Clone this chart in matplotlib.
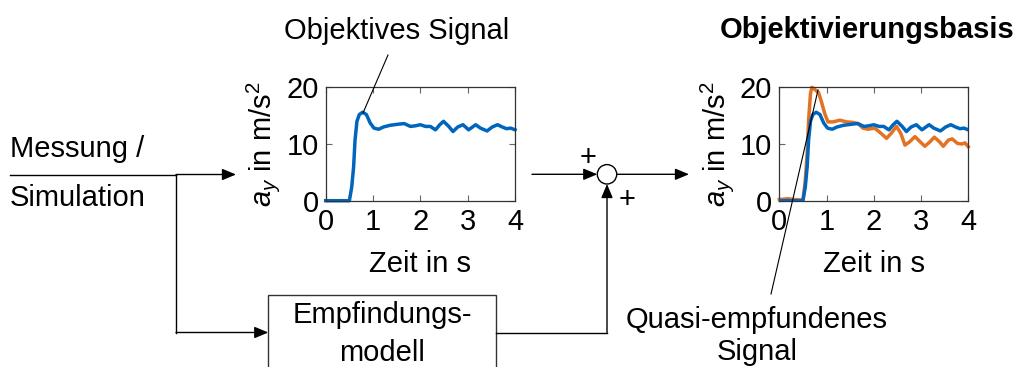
import matplotlib
matplotlib.use("Agg")
import matplotlib.pyplot as plt
from matplotlib.patches import Circle, Rectangle

plt.rcParams['font.family'] = ['Liberation Sans', 'DejaVu Sans']
plt.rcParams['mathtext.fontset'] = 'custom'
plt.rcParams['mathtext.rm'] = 'Liberation Sans'
plt.rcParams['mathtext.it'] = 'Liberation Sans:italic'

# ---- data ----
t_obj = [0.0, 0.50, 0.55, 0.59, 0.62, 0.66, 0.71, 0.78, 0.86, 0.94, 1.02, 1.12, 1.22, 1.36,
         1.54, 1.66, 1.79, 1.89, 2.00, 2.11, 2.21, 2.32, 2.41, 2.49, 2.60, 2.69, 2.79,
         2.90, 3.02, 3.17, 3.27, 3.41, 3.52, 3.63, 3.73, 3.82, 3.91, 4.0]
a_obj = [0.0, 0.0, 2.4, 6.0, 10.7, 14.0, 15.2, 15.6, 15.2, 13.7, 12.8, 12.6, 13.0, 13.3,
         13.5, 13.6, 13.1, 13.2, 13.4, 13.1, 13.1, 12.5, 13.4, 14.0, 13.1, 12.2, 13.0,
         13.4, 12.5, 13.4, 12.8, 12.3, 13.0, 13.4, 13.0, 12.7, 12.8, 12.5]

t_quasi = [0.0, 0.18, 0.33, 0.50, 0.55, 0.59, 0.62, 0.66, 0.69, 0.73, 0.78, 0.83, 0.89,
           0.96, 1.03, 1.14, 1.28, 1.42, 1.56, 1.67, 1.77, 1.88, 2.02, 2.15, 2.27, 2.37,
           2.48, 2.57, 2.66, 2.76, 2.87, 2.98, 3.08, 3.19, 3.28, 3.39, 3.47, 3.58, 3.66,
           3.77, 3.86, 3.93, 4.0]
a_quasi = [0.2, 0.35, 0.2, 0.1, 3.6, 8.4, 14.2, 18.9, 20.0, 19.8, 19.4, 19.1, 17.5,
           15.4, 13.9, 13.9, 14.2, 13.9, 13.8, 13.6, 12.8, 12.6, 12.8, 11.9, 11.0, 11.9,
           13.1, 11.9, 9.8, 10.4, 11.3, 10.4, 9.6, 10.4, 11.2, 10.4, 9.6, 10.7, 10.9,
           10.1, 10.0, 10.2, 9.5]

x_ticks = [0, 1, 2, 3, 4]
y_ticks = [0, 10, 20]

BLUE = '#0065BD'
ORANGE = '#E37222'
FS = 21

W, H = 1015, 367
fig = plt.figure(figsize=(W / 100, H / 100), dpi=100)


def style_axes(ax):
    ax.set_xlim(0, 4)
    ax.set_ylim(0, 20)
    ax.set_xticks(x_ticks)
    ax.set_yticks(y_ticks)
    ax.tick_params(direction='in', top=True, right=True, length=4, width=0.8,
                   colors='#666666', labelcolor='black', labelsize=FS, pad=5)
    for s in ax.spines.values():
        s.set_color('#333333')
        s.set_linewidth(0.9)
    ax.set_xlabel('Zeit in s', fontsize=FS, labelpad=10)
    ax.set_ylabel(r'$a_y$ in m/s$^2$', fontsize=FS, labelpad=3)


def ax_rect(x0, y0, x1, y1):
    return [x0 / W, 1 - y1 / H, (x1 - x0) / W, (y1 - y0) / H]


ax1 = fig.add_axes(ax_rect(325.7, 87.3, 515, 200.7))
ax1.plot(t_obj, a_obj, color=BLUE, lw=2.5, clip_on=False, solid_joinstyle='round')
style_axes(ax1)

ax2 = fig.add_axes(ax_rect(779.3, 87.3, 968.3, 200.7))
ax2.plot(t_obj, a_obj, color=BLUE, lw=2.5, zorder=3, solid_joinstyle='round')
ax2.plot(t_quasi, a_quasi, color=ORANGE, lw=2.5, zorder=2, clip_on=False,
         solid_joinstyle='round')
style_axes(ax2)

# overlay in pixel coordinates
ov = fig.add_axes([0, 0, 1, 1], facecolor='none', zorder=10)
ov.set_xlim(0, W)
ov.set_ylim(H, 0)
ov.axis('off')

lw = 1.0
ap = dict(arrowstyle='-|>,head_length=0.6,head_width=0.25', mutation_scale=14, lw=lw,
          color='black', shrinkA=0, shrinkB=0)

# input line
ov.plot([10, 176], [174.5, 174.5], color='black', lw=lw)
ov.annotate('', xy=(236, 174.5), xytext=(176, 174.5), arrowprops=ap)
ov.plot([176, 176], [174.5, 332.5], color='black', lw=lw)
ov.annotate('', xy=(268.3, 332.5), xytext=(176, 332.5), arrowprops=ap)

ov.text(10, 157, 'Messung /', fontsize=FS, ha='left', va='baseline')
ov.text(10, 206, 'Simulation', fontsize=FS, ha='left', va='baseline')

# Empfindungsmodell box
ov.add_patch(Rectangle((268.3, 295), 496 - 268.3, 100, fill=False, ec='#333333', lw=lw))
ov.text(382, 323, 'Empfindungs-', fontsize=FS, ha='center', va='baseline')
ov.text(382, 361, 'modell', fontsize=FS, ha='center', va='baseline')

# summation
cx, cy, r = 607, 174.3, 9.7
ov.add_patch(Circle((cx, cy), r, fill=False, ec='black', lw=lw))
ov.annotate('', xy=(cx - r, cy), xytext=(532, cy), arrowprops=ap)
ov.plot([496, cx], [332.5, 332.5], color='black', lw=lw)
ov.annotate('', xy=(cx, cy + r), xytext=(cx, 332.5), arrowprops=ap)
ov.annotate('', xy=(689, cy), xytext=(cx + r, cy), arrowprops=ap)
ov.text(588, 158, '+', fontsize=FS, ha='center', va='center')
ov.text(627, 200, '+', fontsize=FS, ha='center', va='center')

# annotations
ov.text(397, 39, 'Objektives Signal', fontsize=FS, ha='center', va='baseline')
ov.plot([388, 363], [55, 113], color='black', lw=0.8)

ov.text(867, 38, 'Objektivierungsbasis', fontsize=FS, ha='center', va='baseline',
        fontweight='bold')

ov.text(757, 328, 'Quasi-empfundenes', fontsize=FS, ha='center', va='baseline')
ov.text(757, 360, 'Signal', fontsize=FS, ha='center', va='baseline')
ov.plot([771, 818], [294, 90], color='black', lw=0.8)

fig.savefig('out.png', dpi=100)
